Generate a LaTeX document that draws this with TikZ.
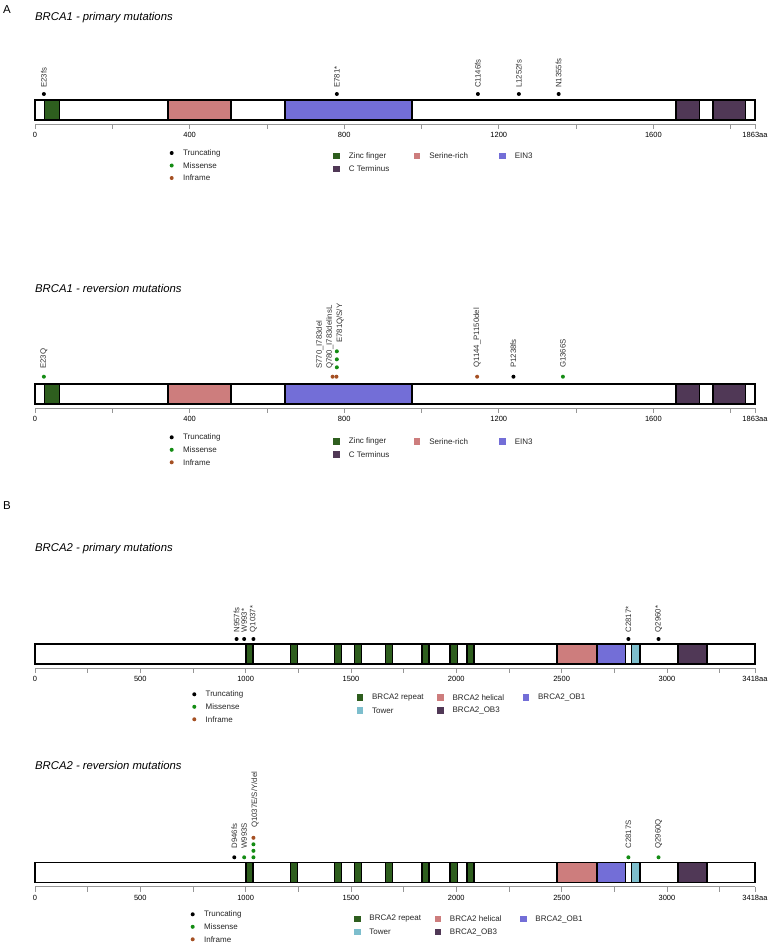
\documentclass[tikz,border=0pt]{standalone}
\usepackage{fontspec}
\setmainfont{Liberation Sans}
\usetikzlibrary{positioning}
\definecolor{znfgreen}{RGB}{46,94,30}
\definecolor{serpink}{RGB}{205,125,125}
\definecolor{einblue}{RGB}{115,110,215}
\definecolor{ctpurple}{RGB}{80,56,86}
\definecolor{towercyan}{RGB}{125,190,205}
\definecolor{misgreen}{RGB}{20,140,20}
\definecolor{infbrown}{RGB}{165,80,35}
\definecolor{axgray}{RGB}{150,150,150}
\tikzset{
  panelletter/.style={anchor=north west, inner sep=0pt, font=\fontsize{11.5}{13}\selectfont},
  paneltitle/.style={anchor=base west, inner sep=0pt, font=\fontsize{11.3}{13}\selectfont\itshape},
  protbar/.style={draw=black, line width=1.5pt},
  domainbox/.style={draw=black, line width=1.5pt},
  axisline/.style={draw=axgray, line width=0.6pt},
  ticklabel/.style={anchor=north, inner sep=0pt, font=\fontsize{7.5}{9}\selectfont},
  mutdot/.style={circle, inner sep=0pt, minimum size=4pt},
  mutlabel/.style={rotate=90, anchor=west, inner sep=0pt, font=\fontsize{7.8}{9}\selectfont, text=black!80},
  legdot/.style={circle, inner sep=0pt, minimum size=4pt},
  legbox/.style={rectangle, inner sep=0pt, minimum size=6.5pt},
  legtext/.style={anchor=west, inner sep=0pt, font=\fontsize{8}{10}\selectfont, text=black!85}
}
\newcommand{\brcaoneprot}{%
  \fill[white] (0,0) rectangle (1863,20);
  \foreach \s/\e/\col in {24/64/znfgreen, 344/507/serpink, 647/975/einblue, 1658/1720/ctpurple, 1754/1839/ctpurple}
    \draw[domainbox, fill=\col] (\s,0) rectangle (\e,20);
  \draw[protbar] (0,0) rectangle (1863,20);
  \draw[axisline] (0,24) -- (1863,24);
  \foreach \t in {0,200,...,1800,1863} \draw[axisline] (\t,24) -- (\t,29);
  \foreach \t in {0,400,...,1600} \node[ticklabel] (tick\t) at (\t,32) {\t};
  \node[ticklabel] (tickend) at (1863,32) {1863aa};
}
\newcommand{\brcatwoprot}{%
  \fill[white] (0,0) rectangle (3418,20);
  \foreach \s/\e in {1002/1036, 1212/1246, 1421/1455, 1517/1551, 1664/1698, 1837/1871, 1971/2005, 2051/2085}
    \draw[domainbox, fill=znfgreen] (\s,0) rectangle (\e,20);
  \foreach \s/\e/\col in {2479/2667/serpink, 2670/2803/einblue, 2831/2872/towercyan, 3052/3190/ctpurple}
    \draw[domainbox, fill=\col] (\s,0) rectangle (\e,20);
  \draw[protbar] (0,0) rectangle (3418,20);
  \draw[axisline] (0,24) -- (3418,24);
  \foreach \t in {0,250,...,3250,3418} \draw[axisline] (\t,24) -- (\t,29);
  \foreach \t in {0,500,...,3000} \node[ticklabel] (tick\t) at (\t,32) {\t};
  \node[ticklabel] (tickend) at (3418,32) {3418aa};
}
\newcommand{\mutlegend}[1]{%
  \foreach \col/\txt [count=\i] in {black/Truncating, misgreen/Missense, infbrown/Inframe} {
    \node[legdot, fill=\col] (#1dot\i) at (0,{12.5*(\i-1)}) {};
    \node[legtext, right=9pt of #1dot\i] (#1txt\i) {\txt};
  }
}
\newcommand{\domlegend}[1]{%
  \foreach \col/\txt/\lx/\ly [count=\i] in {#1} {
    \node[legbox, fill=\col] (dombox\i) at (\lx,\ly) {};
    \node[legtext, right=8.5pt of dombox\i] (domtxt\i) {\txt};
  }
}
\begin{document}
\begin{tikzpicture}[x=1pt, y=-1pt]
\useasboundingbox (0,0) rectangle (773,948);

% A: BRCA1
\node[panelletter] (letterA) at (3,5) {A};
\node[paneltitle] (titleA1) at (35,20.7) {BRCA1 - primary mutations};
\begin{scope}[shift={(35,100)}, x=0.386473pt]
  \brcaoneprot
  \foreach \aa/\txt in {23/E23fs, 781/E781*, 1146/C1146fs, 1252/L1252fs, 1355/N1355fs} {
    \node[mutdot, fill=black] (pm\aa) at (\aa,-6) {};
    \node[mutlabel] (pl\aa) at (\aa,-12) {\txt};
  }
\end{scope}
\begin{scope}[shift={(171.7,153)}] \mutlegend{a1} \end{scope}
\begin{scope}[shift={(336.7,156)}]
  \domlegend{znfgreen/Zinc finger/0/0, serpink/Serine-rich/80.5/0, einblue/EIN3/166/0, ctpurple/C Terminus/0/13}
\end{scope}

\node[paneltitle] (titleA2) at (35,292.3) {BRCA1 - reversion mutations};
\begin{scope}[shift={(35,384)}, x=0.386473pt]
  \brcaoneprot
  \node[mutdot, fill=misgreen] (rm23) at (23,-7.3) {};
  \node[mutlabel] (rl23) at (23,-15) {E23Q};
  \node[mutdot, fill=infbrown] (rm770) at (770,-7.3) {};
  \node[mutdot, fill=infbrown] (rm780) at (780,-7.3) {};
  \foreach \k in {1,2,3} \node[mutdot, fill=misgreen] (rm781\k) at (781,{-8.7-8*\k}) {};
  \node[mutlabel] (rl770) at (737,-15) {S770\_I783del};
  \node[mutlabel] (rl780) at (763,-15) {Q780\_I783delinsL};
  \node[mutlabel] (rl781) at (789,-41) {E781Q/S/Y};
  \node[mutdot, fill=infbrown] (rm1144) at (1144,-7.3) {};
  \node[mutlabel] (rl1144) at (1144,-16) {Q1144\_P1150del};
  \node[mutdot, fill=black] (rm1238) at (1238,-7.3) {};
  \node[mutlabel] (rl1238) at (1238,-16) {P1238fs};
  \node[mutdot, fill=misgreen] (rm1366) at (1366,-7.3) {};
  \node[mutlabel] (rl1366) at (1366,-16) {G1366S};
\end{scope}
\begin{scope}[shift={(171.7,437.3)}] \mutlegend{a2} \end{scope}
\begin{scope}[shift={(336.7,441.7)}]
  \domlegend{znfgreen/Zinc finger/0/0, serpink/Serine-rich/80.5/0, einblue/EIN3/166/0, ctpurple/C Terminus/0/13}
\end{scope}

% B: BRCA2
\node[panelletter] (letterB) at (3,501.7) {B};
\node[paneltitle] (titleB1) at (35,551) {BRCA2 - primary mutations};
\begin{scope}[shift={(35,644)}, x=0.210650pt]
  \brcatwoprot
  \foreach \aa/\txt in {957/N957fs, 993/W993*, 1037/Q1037*, 2817/C2817*, 2960/Q2960*} {
    \node[mutdot, fill=black] (pm\aa) at (\aa,-5) {};
    \node[mutlabel] (pl\aa) at (\aa,-11.5) {\txt};
  }
\end{scope}
\begin{scope}[shift={(194.3,694.3)}] \mutlegend{b1} \end{scope}
\begin{scope}[shift={(360,697.3)}]
  \domlegend{znfgreen/BRCA2 repeat/0/0, serpink/BRCA2 helical/80.5/0, einblue/BRCA2\_OB1/166/0, towercyan/Tower/0/13, ctpurple/BRCA2\_OB3/80.5/13}
\end{scope}

\node[paneltitle] (titleB2) at (35,769.3) {BRCA2 - reversion mutations};
\begin{scope}[shift={(35,862.7)}, x=0.210650pt]
  \brcatwoprot
  \node[mutdot, fill=black] (rm946) at (946,-5.4) {};
  \node[mutlabel] (rl946) at (946,-14) {D946fs};
  \node[mutdot, fill=misgreen] (rm993) at (993,-5.4) {};
  \node[mutlabel] (rl993) at (993,-14) {W993S};
  \foreach \k in {0,1,2} \node[mutdot, fill=misgreen] (rm1037\k) at (1037,{-5.4-6.5*\k}) {};
  \node[mutdot, fill=infbrown] (rm10373) at (1037,-24.9) {};
  \node[mutlabel] (rl1037) at (1044,-34.7) {Q1037E/S/Y/del};
  \node[mutdot, fill=misgreen] (rm2817) at (2817,-5.4) {};
  \node[mutlabel] (rl2817) at (2817,-14) {C2817S};
  \node[mutdot, fill=misgreen] (rm2960) at (2960,-5.4) {};
  \node[mutlabel] (rl2960) at (2960,-14) {Q2960Q};
\end{scope}
\begin{scope}[shift={(192.7,914.3)}] \mutlegend{b2} \end{scope}
\begin{scope}[shift={(357.3,919)}]
  \domlegend{znfgreen/BRCA2 repeat/0/0, serpink/BRCA2 helical/80.5/0, einblue/BRCA2\_OB1/166/0, towercyan/Tower/0/13, ctpurple/BRCA2\_OB3/80.5/13}
\end{scope}
\end{tikzpicture}
\end{document}
